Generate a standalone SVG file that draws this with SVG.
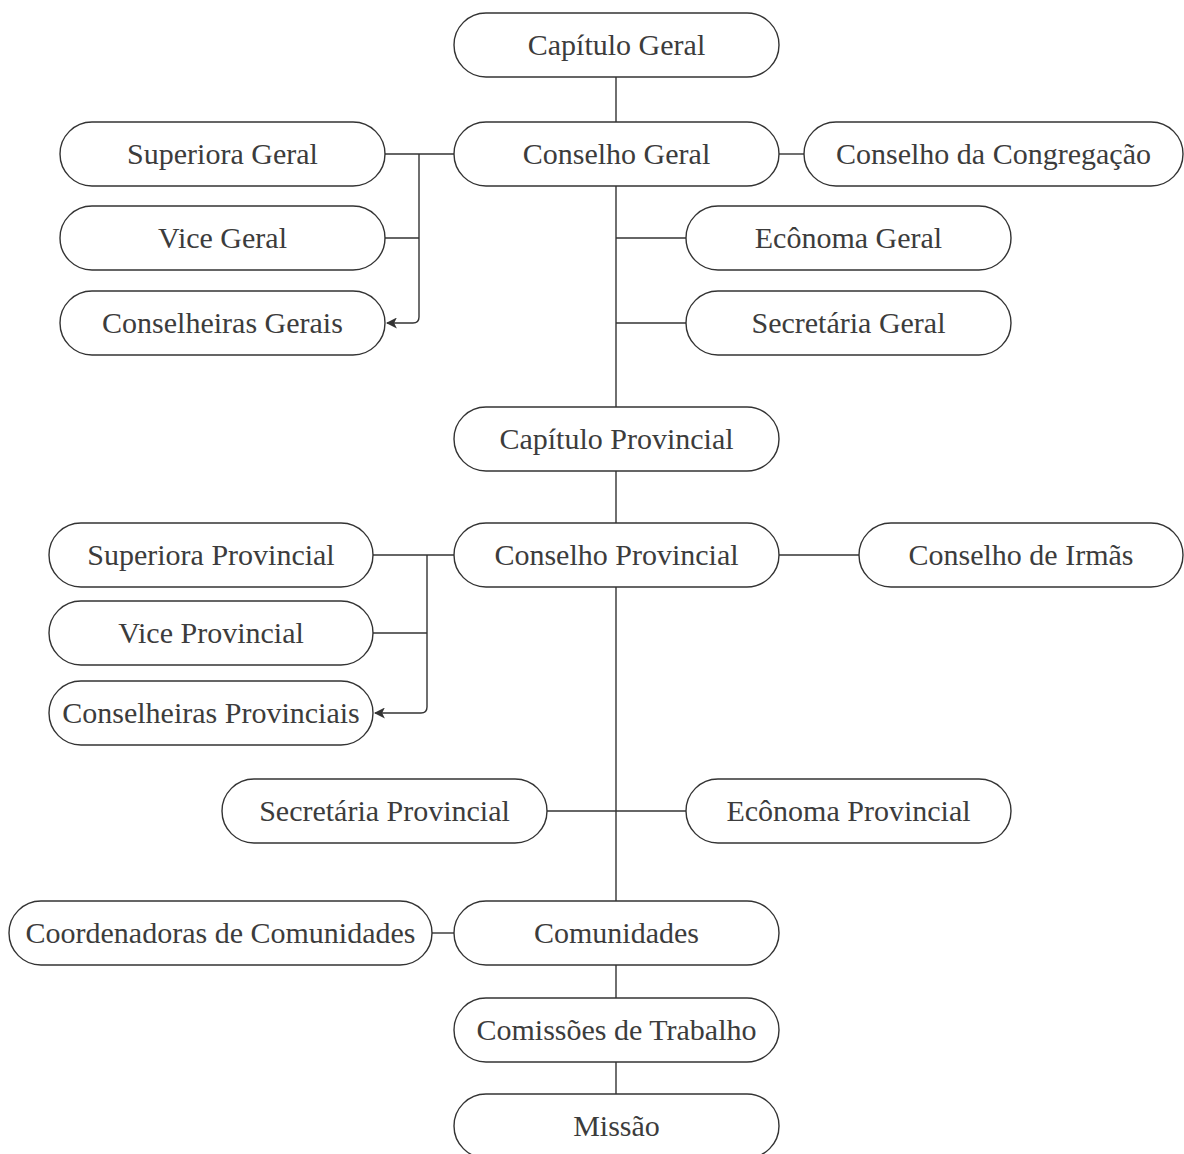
<svg xmlns="http://www.w3.org/2000/svg" width="1184" height="1154" viewBox="0 0 1184 1154">
  <defs>
    <style>
      .node rect { fill: #ffffff; stroke: #333333; stroke-width: 1.4; }
      .node text { font-family: "Liberation Serif", "Times New Roman", serif; font-size: 30px; fill: #3c3c3c; text-anchor: middle; }
      .edges path { fill: none; stroke: #333333; stroke-width: 1.4; }
    </style>
    <marker id="arrow" viewBox="0 0 10 10" refX="9" refY="5" markerWidth="11" markerHeight="11" markerUnits="userSpaceOnUse" orient="auto">
      <path d="M0,0 L10,5 L0,10 L2.5,5 Z" fill="#333333"/>
    </marker>
  </defs>
  <rect width="1184" height="1154" fill="#ffffff"/>

  <!-- connectors -->
  <g class="edges" id="connectors">
    <path d="M616,77 V122"/>
    <path d="M385,154 H454"/>
    <path d="M419,154 V317 Q419,323 413,323 H387" marker-end="url(#arrow)"/>
    <path d="M385,238 H419"/>
    <path d="M779,154 H804"/>
    <path d="M616,186 V407"/>
    <path d="M616,238 H686"/>
    <path d="M616,323 H686"/>
    <path d="M616,471 V523"/>
    <path d="M373,555 H454"/>
    <path d="M427,555 V707 Q427,713 421,713 H375" marker-end="url(#arrow)"/>
    <path d="M373,633 H427"/>
    <path d="M779,555 H859"/>
    <path d="M616,587 V901"/>
    <path d="M547,811 H686"/>
    <path d="M432,933 H454"/>
    <path d="M616,965 V998"/>
    <path d="M616,1062 V1094"/>
  </g>

  <!-- nodes -->
  <g class="node" id="capitulo-geral"><rect x="454" y="13" width="325" height="64" rx="32"/><text x="616.5" y="55">Capítulo Geral</text></g>
  <g class="node" id="conselho-geral"><rect x="454" y="122" width="325" height="64" rx="32"/><text x="616.5" y="164">Conselho Geral</text></g>
  <g class="node" id="superiora-geral"><rect x="60" y="122" width="325" height="64" rx="32"/><text x="222.5" y="164">Superiora Geral</text></g>
  <g class="node" id="conselho-congregacao"><rect x="804" y="122" width="379" height="64" rx="32"/><text x="993.5" y="164">Conselho da Congregação</text></g>
  <g class="node" id="vice-geral"><rect x="60" y="206" width="325" height="64" rx="32"/><text x="222.5" y="248">Vice Geral</text></g>
  <g class="node" id="conselheiras-gerais"><rect x="60" y="291" width="325" height="64" rx="32"/><text x="222.5" y="333">Conselheiras Gerais</text></g>
  <g class="node" id="economa-geral"><rect x="686" y="206" width="325" height="64" rx="32"/><text x="848.5" y="248">Ecônoma Geral</text></g>
  <g class="node" id="secretaria-geral"><rect x="686" y="291" width="325" height="64" rx="32"/><text x="848.5" y="333">Secretária Geral</text></g>
  <g class="node" id="capitulo-provincial"><rect x="454" y="407" width="325" height="64" rx="32"/><text x="616.5" y="449">Capítulo Provincial</text></g>
  <g class="node" id="conselho-provincial"><rect x="454" y="523" width="325" height="64" rx="32"/><text x="616.5" y="565">Conselho Provincial</text></g>
  <g class="node" id="superiora-provincial"><rect x="49" y="523" width="324" height="64" rx="32"/><text x="211" y="565">Superiora Provincial</text></g>
  <g class="node" id="conselho-irmas"><rect x="859" y="523" width="324" height="64" rx="32"/><text x="1021" y="565">Conselho de Irmãs</text></g>
  <g class="node" id="vice-provincial"><rect x="49" y="601" width="324" height="64" rx="32"/><text x="211" y="643">Vice Provincial</text></g>
  <g class="node" id="conselheiras-provinciais"><rect x="49" y="681" width="324" height="64" rx="32"/><text x="211" y="723">Conselheiras Provinciais</text></g>
  <g class="node" id="secretaria-provincial"><rect x="222" y="779" width="325" height="64" rx="32"/><text x="384.5" y="821">Secretária Provincial</text></g>
  <g class="node" id="economa-provincial"><rect x="686" y="779" width="325" height="64" rx="32"/><text x="848.5" y="821">Ecônoma Provincial</text></g>
  <g class="node" id="coordenadoras"><rect x="9" y="901" width="423" height="64" rx="32"/><text x="220.5" y="943">Coordenadoras de Comunidades</text></g>
  <g class="node" id="comunidades"><rect x="454" y="901" width="325" height="64" rx="32"/><text x="616.5" y="943">Comunidades</text></g>
  <g class="node" id="comissoes"><rect x="454" y="998" width="325" height="64" rx="32"/><text x="616.5" y="1040">Comissões de Trabalho</text></g>
  <g class="node" id="missao"><rect x="454" y="1094" width="325" height="64" rx="32"/><text x="616.5" y="1136">Missão</text></g>
</svg>
